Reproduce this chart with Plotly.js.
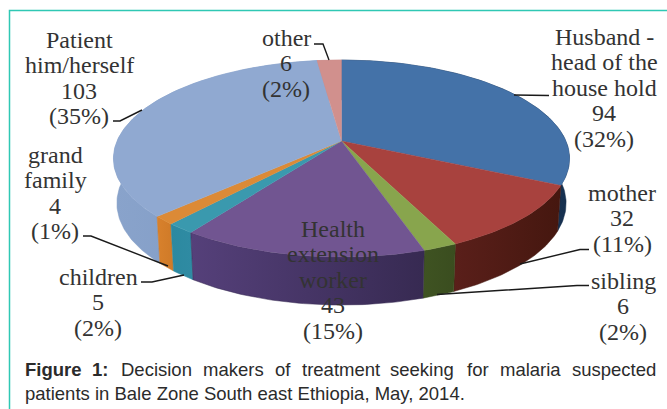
<!DOCTYPE html>
<html><head><meta charset="utf-8">
<script src="https://cdn.plot.ly/plotly-3.0.1.min.js"></script>
<style>html,body{margin:0;padding:0;background:#fff}#c{width:667px;height:409px}</style>
</head><body><div id="c"></div>
<script>
// Data
const categories = ['Husband - head of the house hold','mother','sibling','Health extension worker','children','grand family','Patient him/herself','other'];
const counts = [94,32,6,43,5,4,103,6];
const percents = [32,11,2,15,2,1,35,2];
const labelLines = [
  ['Husband -','head of the','house hold'],['mother'],['sibling'],['Health','extension','worker'],['children'],['grand','family'],['Patient','him/herself'],['other']
];
const topColors = ['#4472a8','#a8423e','#88a54d','#715591','#3a99ae','#dc8a36','#90a9d1','#d1908d'];
const wallLeft  = ['#1f3f68','#5a1f1a','#3f5322','#55407a','#2c89a0','#d8812c','#89a3cb','#c07f7c'];
const wallRight = ['#16304f','#45170f','#3a4d1f','#372a52','#2f8ba3','#cf7a28','#7d98c2','#c07f7c'];
const labelX = [604,622,623,333,98,55,79,286];
const labelFirstY = [37,193,281,229,277,155,40,38];
const LINE_PITCH = 25.4;
const leaders = [
  'M549,95.5 L514,95',
  'M589,249.5 L580,249.5 L520,264',
  'M589,285.5 L577,285.5 L437,294.5',
  null,
  'M141,282 L152,282 L184,275',
  'M83,236 L91,236 L168,266',
  'M113,121 L120,121 L142,110',
  'M314,44 L323,44 L329,60'
];

// Pie projection (tilted circle in perspective, plotted on a pixel-scaled axis)
const CX = 341.5, CY = 141, RX = 224.4, RY = 95.4, K = 0.178;
function topPt(a){ const u=Math.sin(a), v=Math.cos(a), w=1+K*v; return [CX+RX*u/w, CY-RY*v/w]; }
function botPt(a){ const p=topPt(a), v=Math.cos(a); return [CX+(p[0]-CX)*0.985, p[1]+44-4*v]; }
const total = counts.reduce((s,c)=>s+c,0);
const faces = [];
let acc = 0;
const walls = [];
counts.forEach((c,i)=>{
  const a0 = acc/total*2*Math.PI; acc += c; const a1 = acc/total*2*Math.PI;
  const n = Math.max(6,Math.round((a1-a0)*60));
  const tx=[CX], ty=[CY], wx=[], wy=[], bx=[], by=[];
  for(let j=0;j<=n;j++){
    const a=a0+(a1-a0)*j/n, p=topPt(a), q=botPt(a);
    tx.push(p[0]); ty.push(p[1]); wx.push(p[0]); wy.push(p[1]); bx.unshift(q[0]); by.unshift(q[1]);
  }
  tx.push(CX); ty.push(CY);
  walls.push({type:'scatter',mode:'lines',x:wx.concat(bx,[wx[0]]),y:wy.concat(by,[wy[0]]),fill:'toself',
    fillgradient:{type:'horizontal',colorscale:[[0,wallLeft[i]],[1,wallRight[i]]]},
    line:{width:0.5,color:wallRight[i]},hoverinfo:'skip',order:Math.cos((a0+a1)/2)*-1});
  faces.push({type:'scatter',mode:'lines',x:tx,y:ty,fill:'toself',fillcolor:topColors[i],
    line:{width:0.4,color:topColors[i]},hoverinfo:'skip'});
});
walls.sort((a,b)=>a.order-b.order);
walls.forEach(w=>delete w.order);

const annotations = [];
categories.forEach((c,i)=>{
  labelLines[i].concat([String(counts[i]),'('+percents[i]+'%)']).forEach((t,j)=>annotations.push({
    x:labelX[i],y:labelFirstY[i]+j*LINE_PITCH,xref:'x',yref:'y',showarrow:false,align:'center',xanchor:'center',yanchor:'middle',
    text:t,font:{family:'"Liberation Serif", serif',size:24,color:'#333'}
  }));
});
// caption, justified first line set word by word
const capWords = [['<b>Figure</b>',25],['<b>1:</b>',92],['Decision',120.5],['makers',203],['of',275],['treatment',302],['seeking',390],['for',467],['malaria',500],['suspected',572]];
capWords.forEach(w=>annotations.push({x:w[1],y:369,xref:'x',yref:'y',showarrow:false,xanchor:'left',yanchor:'middle',xshift:-1,borderpad:0,
  text:w[0],font:{family:'"Liberation Sans", Arial, sans-serif',size:18.5,color:'#2b2b2b'}}));
annotations.push({x:25,y:393,xref:'x',yref:'y',showarrow:false,xanchor:'left',yanchor:'middle',xshift:-1,borderpad:0,
  text:'patients in Bale Zone South east Ethiopia, May, 2014.',font:{family:'"Liberation Sans", Arial, sans-serif',size:18.5,color:'#2b2b2b'}});

const shapes = [
  {type:'path',path:'M9.5,409 L9.5,10.5 L667,10.5',line:{color:'#2fc8b4',width:1.5},layer:'below'}
].concat(leaders.filter(Boolean).map(p=>({type:'path',path:p,line:{color:'#1a1a1a',width:1.4},layer:'above'})));

Plotly.newPlot('c',walls.concat(faces),{
  width:667,height:409,margin:{l:0,r:0,t:0,b:0},showlegend:false,
  paper_bgcolor:'#fff',plot_bgcolor:'#fff',
  xaxis:{range:[0,667],visible:false,fixedrange:true},
  yaxis:{range:[409,0],visible:false,fixedrange:true},
  annotations,shapes
},{displayModeBar:false,staticPlot:true});
</script></body></html>
